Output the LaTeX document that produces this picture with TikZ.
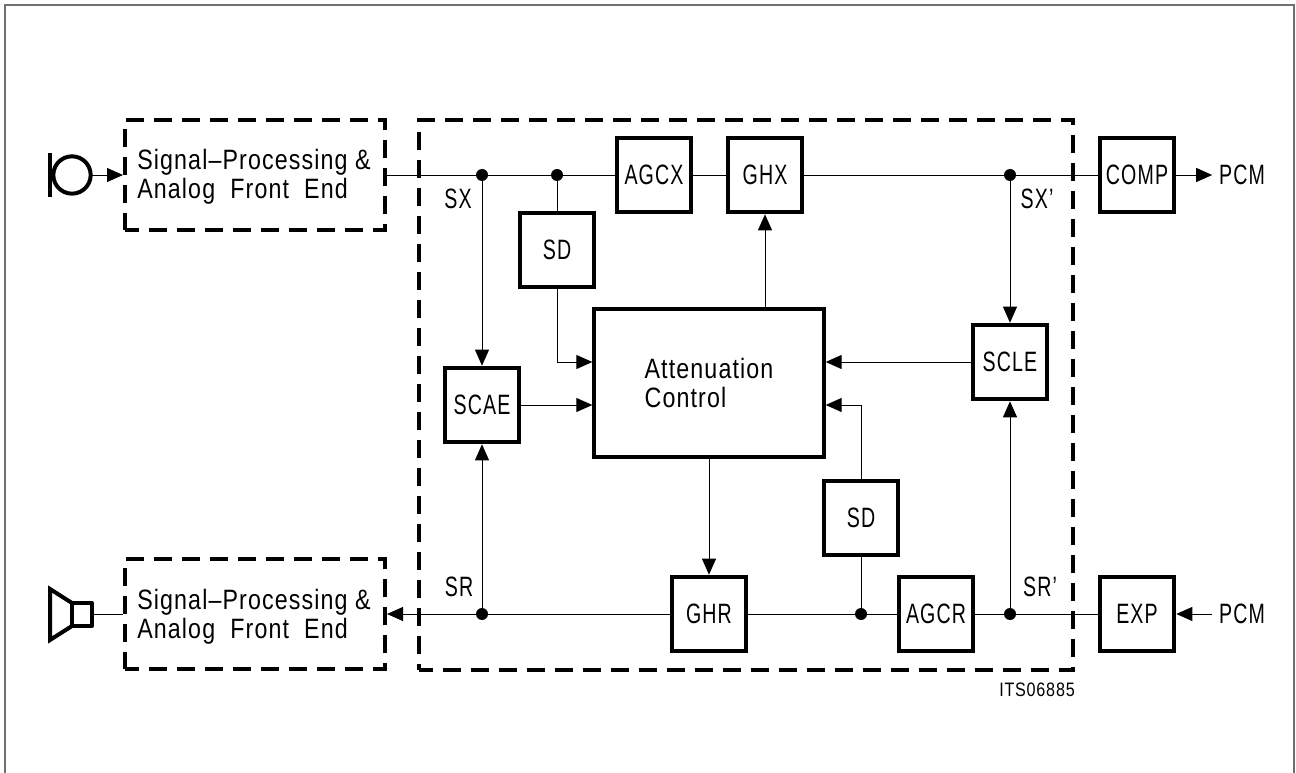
\documentclass[tikz,border=0pt]{standalone}
\usepackage{fontspec}
\setmainfont[FakeStretch=0.7,LetterSpace=4]{Liberation Sans}
\newfontfamily\widefont[FakeStretch=0.83,LetterSpace=4]{Liberation Sans}
\usetikzlibrary{arrows.meta,positioning,calc}
\definecolor{ink}{HTML}{000000}
\definecolor{framegray}{HTML}{707070}
\tikzset{
  block/.style={draw=ink,line width=3pt,minimum width=56pt,minimum height=56pt,
                inner sep=0pt,align=center,font=\fontsize{21}{24}\selectfont},
  dashbox/.style={draw=ink,line width=3pt,dash pattern=on 13.5pt off 7.5pt,dash phase=3pt,inner sep=0pt},
  sig/.style={line width=0.65pt,color=ink},
  sigarr/.style={-{Triangle[length=12pt,width=10.5pt]},line width=0.65pt,color=ink},
  junction/.style={circle,fill=ink,inner sep=0pt,minimum size=9pt},
  tag/.style={inner sep=0pt,font=\fontsize{21}{24}\selectfont},
  desc/.style={inner sep=0pt,align=left,font=\widefont\fontsize{21}{22}\selectfont}
}
\begin{document}
\begin{tikzpicture}[x=0.75pt,y=-0.75pt]
      \useasboundingbox (0,0) rectangle (1296,773);
      \draw[framegray,line width=1.4pt] (5,773)--(5,5)--(1294,5)--(1294,773);

      % front ends and the unit around the blocks
      \node[dashbox,minimum width=195pt,minimum height=83pt] (afetop) at (255,175) {};
      \node[desc] (afetoptext) at (254,177) {Signal–Processing \&\\Analog\ \ Front\ \ End};
      \node[dashbox,minimum width=195pt,minimum height=83pt] (afebot) at (255,614) {};
      \node[desc] (afebottext) at (254,617) {Signal–Processing \&\\Analog\ \ Front\ \ End};
      \node[dashbox,minimum width=491pt,minimum height=413pt] (unit) at (746,395) {};

      % blocks
      \node[block] (agcx) at (654,175) {AGCX};
      \node[block] (ghx) at (765,175) {GHX};
      \node[block] (comp) at (1137,175) {COMP};
      \node[block] (sdtop) at (557,250) {SD};
      \node[block,minimum width=172pt,minimum height=111pt] (ctrl) at (709,383) {};
      \node[desc] (ctrltext) at (709,383) {Attenuation\\Control};
      \node[block] (scle) at (1010,362) {SCLE};
      \node[block] (scae) at (482,405) {SCAE};
      \node[block] (sdbot) at (861,518) {SD};
      \node[block] (ghr) at (709,614) {GHR};
      \node[block] (agcr) at (936,614) {AGCR};
      \node[block] (expd) at (1137,614) {EXP};

      % junctions
      \node[junction] (jsx) at (482,175) {};
      \node[junction] (jsd) at (557,175) {};
      \node[junction] (jsxp) at (1010,175) {};
      \node[junction] (jsr) at (482,614) {};
      \node[junction] (jsdb) at (861,614) {};
      \node[junction] (jsrp) at (1010,614) {};

      % microphone and loudspeaker
      \draw[ink,line width=3pt] (72,175) circle (14pt);
      \draw[ink,line width=3.2pt] (50,153)--(50,197);
      \coordinate (micout) at (92,175);
      \draw[ink,line width=3pt,line join=round] (72,603) rectangle (92,626);
      \draw[ink,line width=3pt,line join=miter] (72,603)--(50,589)--(50,640)--(72,626);
      \coordinate (spkin) at (92,614);

      % top and bottom signal paths
      \draw[sigarr] (micout)--(afetop.west);
      \draw[sig] (afetop.east)--(agcx.west);
      \draw[sig] (agcx.east)--(ghx.west);
      \draw[sig] (ghx.east)--(comp.west);
      \draw[sig] (spkin)--(afebot.west);
      \draw[sigarr] (ghr.west)--(afebot.east);
      \draw[sig] (agcr.west)--(ghr.east);
      \draw[sig] (expd.west)--(agcr.east);

      % control paths
      \draw[sig] (jsd)--(sdtop.north);
      \draw[sigarr] (jsx)--(scae.north);
      \draw[sigarr] (jsr)--(scae.south);
      \draw[sigarr] (jsxp)--(scle.north);
      \draw[sigarr] (jsrp)--(scle.south);
      \draw[sigarr] (sdtop.south) |- (scle.west -| ctrl.west);
      \draw[sigarr] (scae.east)--(scae.east -| ctrl.west);
      \draw[sigarr] (scle.west)--(scle.west -| ctrl.east);
      \draw[sigarr] (sdbot.north) |- (scae.east -| ctrl.east);
      \draw[sig] (sdbot.south)--(jsdb);
      \draw[sigarr] (ghx.south |- ctrl.north)--(ghx.south);
      \draw[sigarr] (ctrl.south)--(ghr.north);

      % PCM ends and labels
      \node[tag] (pcmout) at (1242,175) {PCM};
      \node[tag] (pcmin) at (1242,614) {PCM};
      \draw[sigarr] (comp.east)--([xshift=-5pt]pcmout.west);
      \draw[sigarr] ([xshift=-5pt]pcmin.west)--(expd.east);
      \node[tag] (lsx) at (458,199) {SX};
      \node[tag] (lsxp) at (1037,199) {SX'};
      \node[tag] (lsr) at (459,587) {SR};
      \node[tag] (lsrp) at (1040,587) {SR'};
      \node[inner sep=0pt,font=\widefont\fontsize{14.6}{16}\selectfont] (partno) at (1037,690) {ITS06885};
    \end{tikzpicture}
\end{document}
